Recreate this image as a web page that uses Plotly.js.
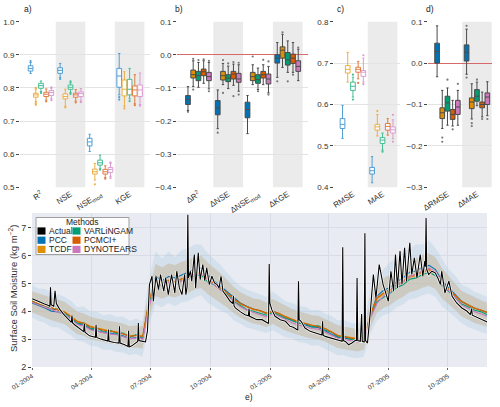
<!DOCTYPE html>
<html><head><meta charset="utf-8">
<script src="https://cdn.plot.ly/plotly-3.0.1.min.js"></script>
<style>html,body{margin:0;padding:0;background:#fff}#chart{width:500px;height:407px}</style>
</head><body><div id="chart"></div>
<script>
// ---------- names, categories, colours ----------
const methods = ['PCC','TCDF','VARLiNGAM','PCMCI+','DYNOTEARS'];
const darkColors = ['#0173b2','#de8f05','#029e73','#d55e00','#cc78bc'];
const lightColors = ['#4f9fd6','#eeae45','#45bd95','#e27d3f','#db9cd0'];

const catsA = ['R2','NSE','NSEmod','KGE'];
const tickA = ['R<sup>2</sup>','NSE','NSE<sub>mod</sub>','KGE'];
const catsB = ['dR2','dNSE','dNSEmod','dKGE'];
const tickB = ['ΔR<sup>2</sup>','ΔNSE','ΔNSE<sub>mod</sub>','ΔKGE'];
const catsC = ['RMSE','MAE'];
const tickC = ['RMSE','MAE'];
const catsD = ['dRMSE','dMAE'];
const tickD = ['ΔRMSE','ΔMAE'];

// box stats per category: [lowerfence, q1, median, q3, upperfence, [outliers]]
// panel a)
const a_PCC  = [[0.844,0.851,0.859,0.867,0.877,[0.881]],[0.831,0.844,0.853,0.861,0.874,[0.827]],[0.608,0.625,0.637,0.648,0.660,[]],[0.779,0.802,0.836,0.859,0.904,[0.772,0.765]]];
const a_TCDF = [[0.759,0.772,0.779,0.784,0.796,[0.749,0.754,0.800]],[0.745,0.767,0.774,0.782,0.796,[0.741]],[0.522,0.540,0.547,0.555,0.572,[0.509]],[0.745,0.776,0.796,0.824,0.849,[0.738]]];
const a_VAR  = [[0.789,0.799,0.807,0.814,0.821,[0.785]],[0.786,0.796,0.802,0.809,0.816,[0.782,0.820]],[0.557,0.567,0.574,0.582,0.597,[0.553]],[0.767,0.779,0.796,0.826,0.859,[0.760]]];
const a_PCM  = [[0.763,0.774,0.781,0.787,0.797,[0.759]],[0.760,0.772,0.779,0.784,0.795,[0.756]],[0.529,0.540,0.547,0.554,0.565,[0.526]],[0.752,0.776,0.794,0.806,0.840,[0.748]]];
const a_DYN  = [[0.767,0.777,0.786,0.792,0.799,[0.763,0.802]],[0.760,0.774,0.783,0.788,0.798,[0.757]],[0.533,0.545,0.554,0.560,0.572,[0.528,0.575]],[0.750,0.774,0.794,0.809,0.845,[0.746]]];
// panel b)
const b_PCC  = [[-0.168,-0.150,-0.135,-0.123,-0.096,[-0.172]],[-0.223,-0.181,-0.160,-0.138,-0.106,[-0.235]],[-0.238,-0.190,-0.165,-0.143,-0.123,[]],[-0.068,-0.025,-0.010,0.000,0.037,[-0.080]]];
const b_TCDF = [[-0.096,-0.070,-0.060,-0.046,-0.018,[-0.012,-0.105]],[-0.090,-0.076,-0.063,-0.050,-0.026,[-0.016,-0.115]],[-0.090,-0.078,-0.066,-0.053,-0.030,[-0.005]],[-0.038,-0.010,0.014,0.024,0.062,[0.068]]];
const b_VAR  = [[-0.098,-0.078,-0.063,-0.050,-0.023,[-0.016]],[-0.102,-0.081,-0.070,-0.060,-0.034,[-0.026]],[-0.105,-0.086,-0.075,-0.060,-0.040,[-0.110]],[-0.053,-0.031,-0.015,0.007,0.042,[-0.080]]];
const b_PCM  = [[-0.086,-0.063,-0.051,-0.043,-0.018,[-0.014]],[-0.092,-0.073,-0.058,-0.050,-0.028,[-0.022,-0.125]],[-0.090,-0.070,-0.060,-0.050,-0.030,[-0.015]],[-0.053,-0.026,-0.010,0.002,0.037,[-0.060]]];
const b_DYN  = [[-0.103,-0.078,-0.066,-0.053,-0.023,[-0.018,-0.110]],[-0.110,-0.083,-0.073,-0.056,-0.030,[-0.120,-0.024]],[-0.115,-0.088,-0.073,-0.058,-0.035,[-0.120,-0.020]],[-0.078,-0.050,-0.035,-0.018,0.017,[0.022]]];
// panel c)
const c_PCC  = [[0.518,0.542,0.552,0.566,0.598,[]],[0.411,0.432,0.440,0.448,0.474,[]]];
const c_TCDF = [[0.654,0.676,0.685,0.694,0.726,[]],[0.524,0.538,0.546,0.552,0.576,[0.584]]];
const c_VAR  = [[0.618,0.634,0.644,0.654,0.666,[0.612,0.672]],[0.490,0.506,0.514,0.520,0.531,[0.486]]];
const c_PCM  = [[0.662,0.678,0.685,0.690,0.704,[0.652]],[0.526,0.538,0.547,0.554,0.566,[]]];
const c_DYN  = [[0.654,0.668,0.678,0.682,0.712,[0.649,0.719]],[0.517,0.531,0.539,0.546,0.563,[0.510,0.575]]];
// panel d)
const d_PCC  = [[-0.033,0.000,0.028,0.048,0.090,[]],[-0.027,0.005,0.026,0.044,0.082,[-0.035,0.090]]];
const d_TCDF = [[-0.158,-0.134,-0.120,-0.108,-0.066,[-0.180,-0.190]],[-0.135,-0.110,-0.094,-0.084,-0.050,[-0.145,-0.152]]];
const d_VAR  = [[-0.150,-0.116,-0.096,-0.080,-0.060,[-0.040]],[-0.103,-0.092,-0.080,-0.064,-0.046,[-0.040]]];
const d_PCM  = [[-0.152,-0.136,-0.124,-0.112,-0.090,[-0.160]],[-0.130,-0.108,-0.100,-0.094,-0.070,[-0.135]]];
const d_DYN  = [[-0.150,-0.124,-0.106,-0.090,-0.066,[-0.050]],[-0.127,-0.100,-0.082,-0.072,-0.045,[-0.135]]];

// ---------- time series (days since 2004-01-01) ----------
const actualDay = [0,6,12,18,24,27,28,29,33,35,37,42,48,53,58,60,61,62,66,70,74,78,79,80,81,88,95,97,98,99,106,112,116,117,118,126,133,134,135,142,147,148,149,153,158,162,163,164,170,174,177,180,184,186,190,194,197,202,205,209,214,219,222,226,230,234,236,238,239,240,243,245,249,251,255,258,262,265,268,272,276,280,284,287,290,293,297,304,308,309,310,312,320,327,332,333,334,337,345,353,360,363,364,365,368,373,381,389,396,401,407,408,409,410,413,419,427,435,443,445,446,447,450,458,466,473,476,477,478,481,486,491,496,498,499,500,504,506,507,510,511,512,515,519,524,528,533,539,544,547,551,555,558,561,565,568,572,575,580,583,587,591,596,600,603,604,605,606,609,614,619,623,627,629,634,640,645,652,660,668,673,675,676,680,688,697,699];
const actualVal = [4.45,4.38,4.32,4.27,4.22,4.18,4.86,4.24,4.18,4.74,4.28,4.08,3.90,3.78,3.66,3.60,3.85,3.58,3.50,3.42,3.35,3.28,3.27,3.55,3.25,3.12,3.08,3.07,3.52,3.06,3.00,2.96,2.93,3.35,2.92,2.88,2.86,3.46,2.86,2.80,2.74,3.30,2.72,2.76,2.86,2.92,3.58,2.95,2.92,2.90,3.30,4.96,5.26,4.36,5.26,4.78,5.32,4.72,5.20,4.60,5.32,4.66,5.44,4.84,4.60,5.32,4.60,4.90,7.47,5.20,5.44,5.08,6.04,4.84,6.10,5.14,5.68,5.10,5.56,4.96,5.26,5.02,4.96,4.84,5.26,4.72,4.60,4.36,4.28,4.55,4.20,4.12,3.98,3.88,3.84,4.10,3.82,3.78,3.70,3.70,3.58,3.56,5.70,4.30,4.06,3.82,3.70,3.64,3.46,3.43,3.34,3.33,5.08,3.70,3.64,3.40,3.28,3.22,3.16,3.15,3.64,3.14,3.10,3.04,2.98,2.92,2.92,6.30,2.95,2.92,2.80,2.86,2.95,2.95,5.20,2.95,2.92,3.90,2.92,2.90,6.80,2.95,2.86,3.88,5.32,4.48,5.68,4.96,4.60,4.36,5.44,4.72,6.04,4.84,6.16,4.96,6.28,5.08,6.46,5.32,5.92,5.20,6.04,5.26,5.80,5.60,7.35,5.50,5.32,5.44,5.38,5.20,4.96,5.44,4.66,5.08,4.54,4.30,4.12,4.00,3.88,4.10,3.86,3.82,3.76,3.64,3.62];

const modelDay = [0,10,20,30,40,50,60,70,80,90,100,110,120,130,140,150,160,170,180,190,200,210,220,230,240,250,260,270,280,290,300,310,320,330,340,350,360,370,380,390,400,410,420,430,440,450,460,470,480,490,500,510,520,530,540,550,560,570,580,590,600,610,620,630,640,650,660,670,680,690,699];
const predPCC = [4.30,4.22,4.12,4.00,3.98,3.90,3.74,3.55,3.50,3.36, 3.30,3.24,3.22,3.18,3.12,3.02,3.06,3.02,4.35,5.25, 5.10,5.25,5.20,5.30,5.40,5.50,5.55,5.30,5.08,4.90, 4.70,4.48,4.30,4.18,4.08,4.02,3.92,4.02,3.90,3.76, 3.66,3.58,3.52,3.44,3.42,3.30,3.18,3.06,3.04,2.98, 2.94,3.00,3.85,4.55,4.75,4.85,5.05,5.20,5.40,5.45, 5.58,5.65,5.50,5.10,4.85,4.60,4.36,4.24,4.12,4.04, 3.96];
const predTCDF = [4.34,4.26,4.20,4.14,4.06,3.98,3.82,3.64,3.58,3.46, 3.40,3.34,3.30,3.26,3.20,3.12,3.14,3.10,4.40,5.10, 5.00,5.10,5.02,5.14,5.20,5.30,5.36,5.14,4.98,4.80, 4.62,4.42,4.26,4.16,4.06,4.02,3.92,3.98,3.90,3.80, 3.70,3.62,3.56,3.50,3.47,3.38,3.26,3.14,3.10,3.06, 3.02,3.08,3.90,4.45,4.62,4.74,4.92,5.04,5.22,5.28, 5.40,5.46,5.34,4.98,4.78,4.56,4.34,4.22,4.12,4.04, 3.96];
const predVAR = [4.38,4.24,4.20,4.06,4.08,3.92,3.80,3.56,3.58,3.38, 3.40,3.26,3.32,3.20,3.22,3.06,3.16,3.04,4.30,5.05, 4.90,5.05,4.95,5.10,5.15,5.28,5.30,5.05,4.95,4.76, 4.60,4.36,4.22,4.06,4.00,3.92,3.86,3.96,3.86,3.74, 3.68,3.56,3.56,3.44,3.48,3.32,3.26,3.08,3.10,3.00, 3.02,3.02,3.80,4.35,4.50,4.65,4.85,4.95,5.15,5.20, 5.32,5.40,5.28,4.92,4.72,4.50,4.26,4.16,4.04,3.98, 3.88];
const predPCM = [4.36,4.28,4.20,4.12,4.04,3.97,3.80,3.62,3.56,3.44, 3.38,3.32,3.29,3.25,3.19,3.10,3.13,3.10,4.42,5.12, 5.02,5.12,5.06,5.18,5.24,5.34,5.40,5.18,5.00,4.84, 4.66,4.44,4.28,4.16,4.08,4.03,3.94,4.00,3.92,3.80, 3.70,3.62,3.56,3.50,3.46,3.38,3.26,3.12,3.08,3.04, 3.00,3.06,3.88,4.48,4.66,4.78,4.96,5.08,5.26,5.32, 5.44,5.50,5.38,5.02,4.80,4.58,4.34,4.22,4.10,4.04, 3.96];
const predDYN = [4.32,4.22,4.14,4.06,3.96,3.88,3.70,3.52,3.46,3.34, 3.28,3.22,3.18,3.16,3.10,3.02,3.04,3.00,4.20,5.00, 4.92,5.04,4.98,5.10,5.16,5.30,5.34,5.12,4.94,4.76, 4.56,4.34,4.16,4.04,3.96,3.90,3.80,3.92,3.80,3.68, 3.58,3.50,3.44,3.38,3.36,3.26,3.14,3.02,2.98,2.94, 2.90,2.98,3.78,4.30,4.55,4.70,4.90,5.05,5.25,5.32, 5.46,5.55,5.42,5.00,4.74,4.48,4.22,4.10,3.98,3.90, 3.82];
const bandHi = [4.72,4.64,4.58,4.50,4.42,4.34,4.16,3.98,3.92,3.80, 3.74,3.68,3.64,3.62,3.56,3.46,3.50,3.46,4.80,5.70, 5.58,5.72,5.66,5.78,5.84,5.95,6.00,5.75,5.55,5.36, 5.12,4.88,4.68,4.56,4.46,4.42,4.32,4.44,4.32,4.18, 4.08,4.00,3.94,3.86,3.84,3.74,3.62,3.50,3.46,3.40, 3.36,3.44,4.35,4.98,5.18,5.32,5.52,5.66,5.84,5.90, 6.02,6.08,5.94,5.55,5.26,5.00,4.74,4.62,4.50,4.40, 4.32];
const bandLo = [3.96,3.88,3.78,3.68,3.62,3.54,3.36,3.18,3.12,3.00, 2.94,2.88,2.84,2.82,2.76,2.68,2.70,2.66,3.78,4.55, 4.45,4.55,4.50,4.60,4.66,4.78,4.84,4.62,4.46,4.30, 4.14,3.94,3.78,3.66,3.56,3.52,3.44,3.54,3.42,3.30, 3.22,3.14,3.08,3.02,3.00,2.92,2.80,2.68,2.64,2.60, 2.56,2.62,3.40,3.95,4.12,4.22,4.40,4.52,4.68,4.75, 4.85,4.92,4.80,4.46,4.26,4.06,3.82,3.70,3.58,3.52, 3.44];
const outerHi = [4.95,4.82,4.80,4.68,4.62,4.52,4.38,4.15,4.18,3.98, 3.98,3.86,3.90,3.80,3.82,3.66,3.74,3.64,5.15,6.15, 5.90,6.15,5.95,6.20,6.25,6.40,6.40,6.10,5.88,5.66, 5.38,5.12,4.92,4.78,4.70,4.62,4.52,4.70,4.52,4.36, 4.30,4.18,4.16,4.04,4.06,3.92,3.84,3.68,3.70,3.58, 3.56,3.66,4.70,5.45,5.50,5.75,5.92,6.15,6.22,6.40, 6.40,6.55,6.28,5.88,5.52,5.30,4.96,4.86,4.70,4.62, 4.52];
const outerLo = [3.78,3.66,3.58,3.44,3.42,3.28,3.14,2.94,2.92,2.76, 2.74,2.62,2.62,2.54,2.52,2.42,2.48,2.36,3.50,4.25, 4.15,4.30,4.18,4.32,4.36,4.50,4.58,4.32,4.18,4.02, 3.92,3.68,3.56,3.42,3.36,3.28,3.22,3.32,3.20,3.06, 3.02,2.90,2.86,2.76,2.78,2.66,2.56,2.42,2.42,2.34, 2.32,2.36,3.16,3.66,3.86,3.94,4.14,4.24,4.42,4.46, 4.58,4.64,4.52,4.18,4.00,3.78,3.58,3.44,3.34,3.26, 3.20];

// ---------- helpers ----------
const start = Date.UTC(2004,0,1);
const toDate = d => new Date(start + d*86400000).toISOString().slice(0,10);
const px = x => x/500, py = y => 1 - y/407;

function boxTraces(cats, statsList, ax, filled){
  const suf = ax===1 ? '' : String(ax);
  const out = [];
  statsList.forEach((st,m)=>{
    out.push({
      type:'box', orientation:'v', name:methods[m], x:cats,
      lowerfence:st.map(s=>s[0]), q1:st.map(s=>s[1]), median:st.map(s=>s[2]),
      q3:st.map(s=>s[3]), upperfence:st.map(s=>s[4]),
      boxpoints:false, whiskerwidth:0.5,
      offsetgroup:'m'+m, alignmentgroup:'g'+ax,
      line:{color: filled ? '#4a4a4a' : lightColors[m], width:1},
      fillcolor: filled ? darkColors[m] : 'rgba(255,255,255,0.85)',
      xaxis:'x'+suf, yaxis:'y'+suf, showlegend:false, hoverinfo:'skip'
    });
  });
  statsList.forEach((st,m)=>{
    const fx = [], fy = [];
    st.forEach((s,i)=>s[5].forEach(v=>{fx.push(cats[i]); fy.push(v);}));
    out.push({type:'scatter', mode:'markers', x:fx, y:fy, orientation:'v',
      offsetgroup:'m'+m, alignmentgroup:'g'+ax,
      marker:{size:2.2, color: filled ? '#777' : lightColors[m]},
      xaxis:'x'+suf, yaxis:'y'+suf, showlegend:false, hoverinfo:'skip'});
  });
  return out;
}

const data = [].concat(
  boxTraces(catsA,[a_PCC,a_TCDF,a_VAR,a_PCM,a_DYN],1,false),
  boxTraces(catsB,[b_PCC,b_TCDF,b_VAR,b_PCM,b_DYN],2,true),
  boxTraces(catsC,[c_PCC,c_TCDF,c_VAR,c_PCM,c_DYN],3,false),
  boxTraces(catsD,[d_PCC,d_TCDF,d_VAR,d_PCM,d_DYN],4,true)
);

const mDates = modelDay.map(toDate);
const ts = {xaxis:'x5', yaxis:'y5', showlegend:false, hoverinfo:'skip', type:'scatter', mode:'lines'};
data.push(Object.assign({}, ts, {x:mDates, y:outerLo, line:{width:0, color:'rgba(0,0,0,0)'}}));
data.push(Object.assign({}, ts, {x:mDates, y:outerHi, line:{width:0, color:'rgba(0,0,0,0)'}, fill:'tonexty', fillcolor:'rgba(150,195,222,0.25)'}));
data.push(Object.assign({}, ts, {x:mDates, y:bandLo, line:{width:0, color:'rgba(0,0,0,0)'}}));
data.push(Object.assign({}, ts, {x:mDates, y:bandHi, line:{width:0, color:'rgba(0,0,0,0)'}, fill:'tonexty', fillcolor:'rgba(198,180,150,0.5)'}));
[predPCC,predTCDF,predVAR,predPCM,predDYN].forEach((p,m)=>{
  data.push(Object.assign({}, ts, {x:mDates, y:p, name:methods[m], line:{width:1.1, color:darkColors[m]}}));
});
const aDates = actualDay.map(toDate);
data.push(Object.assign({}, ts, {x:aDates, y:actualVal, line:{width:2.4, color:'#ffffff'}}));
data.push(Object.assign({}, ts, {x:aDates, y:actualVal, name:'Actual', line:{width:1.1, color:'#000000'}}));

// ---------- layout ----------
const boxY = [py(187.3), py(21.7)];
function catAxis(dom, cats, ticks, range, anchor){
  return {domain:dom, anchor:anchor, type:'category', range:range, tickvals:cats, ticktext:ticks,
    tickangle:-32, ticks:'', showgrid:false, zeroline:false, showline:false, tickfont:{size:8, color:'#333'}};
}
function valAxis(range, anchor, zl){
  return {domain:boxY, anchor:anchor, range:range, dtick:0.1, tickformat:'.1f', ticks:'outside', ticklen:3,
    tickcolor:'#444', gridcolor:'#e3e3e3', gridwidth:1, showline:false, tickfont:{size:8, color:'#333'},
    zeroline: !!zl, zerolinecolor:'#d66a6a', zerolinewidth:1};
}

const shapes = [];
function shade(ax, idx){
  idx.forEach(i=>shapes.push({type:'rect', xref:'x'+ax, yref:'y'+ax+' domain', x0:i-0.5, x1:i+0.5, y0:0, y1:1,
    fillcolor:'#ebebeb', line:{width:0}, layer:'below'}));
}
shade('',[1,3]); shade('2',[1,3]); shade('3',[1]); shade('4',[1]);
shapes.push({type:'rect', xref:'x5 domain', yref:'y5 domain', x0:0, x1:1, y0:0, y1:1, fillcolor:'#e9ebf2', line:{width:0}, layer:'below'});

// manual legend (box, swatches, labels)
shapes.push({type:'rect', xref:'paper', yref:'paper', x0:px(36), x1:px(129), y0:py(254.5), y1:py(217.5),
  fillcolor:'rgba(255,255,255,0.9)', line:{color:'#a0a0a0', width:1}, layer:'above'});
const legNames = ['Actual','PCC','TCDF','VARLiNGAM','PCMCI+','DYNOTEARS'];
const legColors = ['#000000'].concat(darkColors);
const annotations = [];
legNames.forEach((n,k)=>{
  const col = k<3 ? 0 : 1, row = k%3;
  const x0 = col===0 ? 37.5 : 72.5;
  const yc = 231 + row*9.2;
  shapes.push({type:'rect', xref:'paper', yref:'paper', x0:px(x0), x1:px(x0+8), y0:py(yc+3.6), y1:py(yc-3.6),
    fillcolor:legColors[k], line:{width:0}, layer:'above'});
  annotations.push({xref:'paper', yref:'paper', x:px(x0+9.5), y:py(yc), text:n, showarrow:false,
    xanchor:'left', yanchor:'middle', font:{size:8.5, color:'#222'}});
});
annotations.push({xref:'paper', yref:'paper', x:px(82.5), y:py(222), text:'Methods', showarrow:false,
  xanchor:'center', yanchor:'middle', font:{size:8.5, color:'#222'}});
[['a)',22],['b)',173],['c)',335],['d)',424]].forEach(([t,x])=>annotations.push({xref:'paper', yref:'paper',
  x:px(x), y:py(9), text:t, showarrow:false, xanchor:'left', yanchor:'middle', font:{size:8.5, color:'#222'}}));
annotations.push({xref:'paper', yref:'paper', x:px(249), y:py(397), text:'e)', showarrow:false,
  xanchor:'center', yanchor:'middle', font:{size:8.5, color:'#222'}});
annotations.push({xref:'paper', yref:'paper', x:px(13), y:py(289), text:'Surface Soil Moisture (kg m<sup>−2</sup>)',
  showarrow:false, textangle:-90, xanchor:'center', yanchor:'middle', font:{size:9.5, color:'#333'}});

const layout = {
  width:500, height:407, margin:{l:0,r:0,t:0,b:0}, paper_bgcolor:'#ffffff', plot_bgcolor:'rgba(0,0,0,0)',
  font:{family:'Liberation Sans, Arial, sans-serif', size:8, color:'#333'},
  showlegend:false, boxmode:'group', boxgap:0.12, boxgroupgap:0.1,
  scattermode:'group', scattergap:0.12,
  xaxis: catAxis([px(20),px(150)], catsA, tickA, [-0.71,3.69], 'y'),
  yaxis: valAxis([0.5,1.0], 'x'),
  xaxis2: catAxis([px(177),px(308)], catsB, tickB, [-0.72,3.68], 'y2'),
  yaxis2: valAxis([-0.4,0.1], 'x2', true),
  xaxis3: catAxis([px(334),px(400)], catsC, tickC, [-0.64,1.59], 'y3'),
  yaxis3: valAxis([0.4,0.8], 'x3'),
  xaxis4: catAxis([px(428),px(492)], catsD, tickD, [-0.66,1.51], 'y4'),
  yaxis4: valAxis([-0.3,0.1], 'x4', true),
  xaxis5: {domain:[px(32),px(487)], anchor:'y5', type:'date', range:['2004-01-01','2005-11-30'],
    dtick:'M3', tick0:'2004-01-01', tickformat:'%m-%Y', tickangle:-32, ticks:'outside', ticklen:2,
    tickcolor:'#666', gridcolor:'#d9dce4', zeroline:false, showline:false, tickfont:{size:6.5, color:'#333'}},
  yaxis5: {domain:[py(367), py(213)], anchor:'x5', range:[2,7.53], dtick:1, ticks:'outside', ticklen:3,
    tickcolor:'#444', gridcolor:'#d9dce4', zeroline:false, showline:false, tickfont:{size:9, color:'#333'}},
  shapes:shapes, annotations:annotations
};

Plotly.newPlot('chart', data, layout, {staticPlot:true, displayModeBar:false});
</script>
</body></html>
